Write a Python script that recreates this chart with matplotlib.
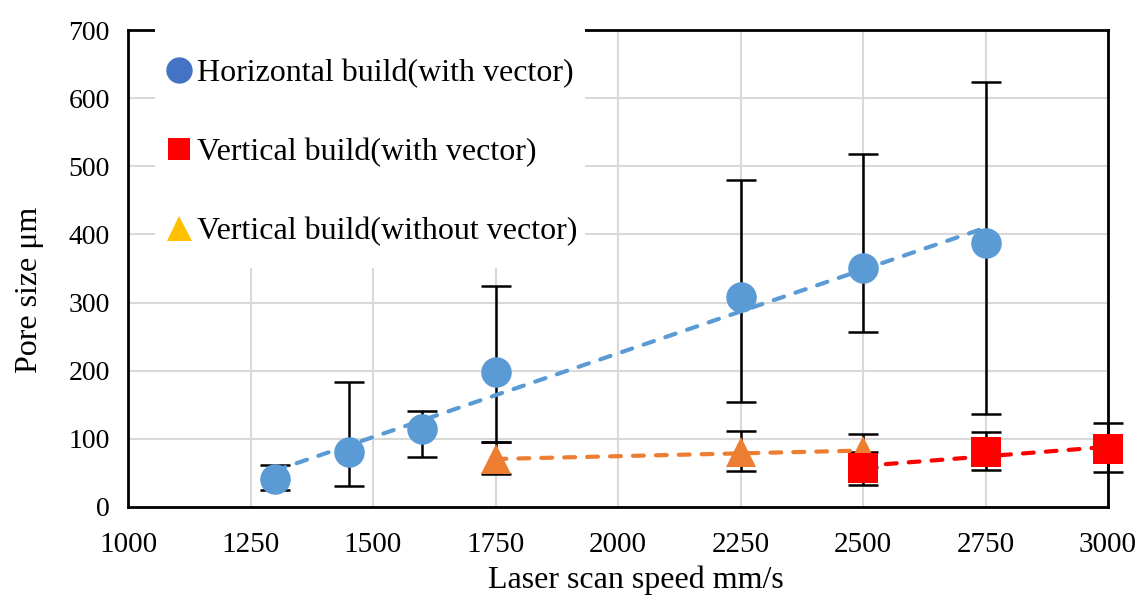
import numpy as np
import matplotlib
matplotlib.use("Agg")
import matplotlib.pyplot as plt
from matplotlib.lines import Line2D
from matplotlib.patches import Rectangle

# ---- data ----
h_x = [1300, 1450, 1600, 1750, 2250, 2500, 2750]
h_y = [41, 81, 114, 198, 308, 351, 387]
h_lo = [25, 31, 73, 95, 154, 257, 136]
h_hi = [62, 183, 141, 324, 480, 518, 624]

vw_x = [2500, 2750, 3000]
vw_y = [57, 81, 85]
vw_lo = [32, 54, 51]
vw_hi = [80, 110, 123]

vo_x = [1750, 2250, 2500]
vo_y = [70, 80, 82]
vo_lo = [48, 53, 58]
vo_hi = [95, 111, 107]

x_ticks = [1000, 1250, 1500, 1750, 2000, 2250, 2500, 2750, 3000]
y_ticks = [0, 100, 200, 300, 400, 500, 600, 700]

labels = ["Horizontal build(with vector)", "Vertical build(with vector)",
          "Vertical build(without vector)"]

plt.rcParams['font.family'] = ['Liberation Serif', 'DejaVu Serif']

fig = plt.figure(figsize=(11.41, 5.98), dpi=100)
ax = fig.add_axes([128/1141, 1-507/598, (1108-128)/1141, (507-30)/598])

blue = '#5B9BD5'
red = '#FF0000'
orange = '#ED7D31'


def series(x, y, lo, hi, color, marker, ms):
    x = np.array(x, float); y = np.array(y, float)
    yerr = [y - np.array(lo), np.array(hi) - y]
    ax.errorbar(x, y, yerr=yerr, fmt='none', ecolor='black', elinewidth=1.8,
                capsize=11, capthick=1.8, zorder=3, clip_on=False)
    k, b = np.polyfit(x, y, 1)
    xx = np.array([x.min(), x.max()])
    ax.plot(xx, k*xx + b, color=color, lw=3, ls=(0, (2.6, 2.9)),
            dash_capstyle='round', zorder=5, clip_on=False)
    ax.plot(x, y, ls='none', marker=marker, ms=ms, color=color,
            markeredgewidth=0, zorder=4, clip_on=False)


series(h_x, h_y, h_lo, h_hi, blue, 'o', 22)
series(vo_x, vo_y, vo_lo, vo_hi, orange, '^', 22)
series(vw_x, vw_y, vw_lo, vw_hi, red, 's', 21)

ax.set_xlim(1000, 3000)
ax.set_ylim(0, 700)
ax.set_xticks(x_ticks)
ax.set_yticks(y_ticks)
ax.set_xticklabels([str(t) for t in x_ticks])
ax.set_yticklabels([str(t) for t in y_ticks])
ax.tick_params(axis='x', length=0, pad=18, labelsize=21)
ax.tick_params(axis='y', length=0, pad=13, labelsize=20)
ax.grid(True, color='#D9D9D9', lw=1.5, zorder=0)
ax.set_axisbelow(True)
for s in ax.spines.values():
    s.set_linewidth(2)
    s.set_color('black')

ax.set_xlabel('Laser scan speed mm/s', fontsize=23)
ax.xaxis.set_label_coords((636-128)/980, -0.122)
ax.set_ylabel('Pore size μm', fontsize=23)
ax.yaxis.set_label_coords(-0.086, 0.455)

# white legend background (covers grid and part of the top spine)
ax.add_patch(Rectangle(((155-128)/980, (507-268)/477), 430/980, 240/477,
                       transform=ax.transAxes, facecolor='white',
                       edgecolor='none', zorder=9, clip_on=False))

handles = [
    Line2D([], [], ls='none', marker='o', ms=19, color='#4472C4', markeredgewidth=0),
    Line2D([], [], ls='none', marker='s', ms=16, color='#FF0000', markeredgewidth=0),
    Line2D([], [], ls='none', marker='^', ms=18, color='#FFC000', markeredgewidth=0),
]
leg = ax.legend(handles, labels, loc='upper left',
                bbox_to_anchor=((136-128)/980, 1.003), fontsize=23,
                frameon=False, handlelength=0.8, handletextpad=0.15,
                labelspacing=1.55, borderpad=0.95, borderaxespad=0)
leg.set_zorder(10)

fig.savefig('out.png', dpi=100)
